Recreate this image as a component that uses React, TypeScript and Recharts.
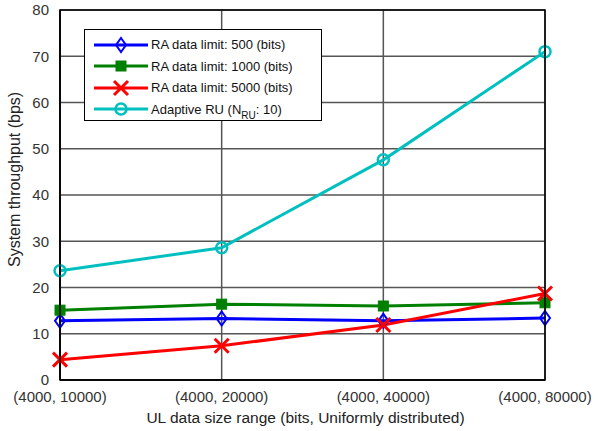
import React from 'react';
import { LineChart, Line, XAxis, YAxis, CartesianGrid } from 'recharts';

const rangeLabels = ['(4000, 10000)', '(4000, 20000)', '(4000, 40000)', '(4000, 80000)'];
const limit500 = [12.8, 13.3, 12.8, 13.4];
const limit1000 = [15.1, 16.4, 16.0, 16.7];
const limit5000 = [4.4, 7.4, 11.9, 18.7];
const adaptiveRu = [23.6, 28.6, 47.6, 71.0];
const yTicks = [0, 10, 20, 30, 40, 50, 60, 70, 80];

const data = rangeLabels.map((label, i) => ({
  idx: i,
  label,
  l500: limit500[i],
  l1000: limit1000[i],
  l5000: limit5000[i],
  ru: adaptiveRu[i],
}));

const FONT = 'Arial, "Liberation Sans", sans-serif';

const Diamond = ({ cx, cy, color }: any) => (
  <polygon
    points={`${cx},${cy - 7} ${cx + 5},${cy} ${cx},${cy + 7} ${cx - 5},${cy}`}
    fill="none"
    stroke={color}
    strokeWidth={2}
  />
);
const Square = ({ cx, cy, color }: any) => (
  <rect x={cx - 5} y={cy - 5} width={10} height={10} fill={color} stroke={color} />
);
const Cross = ({ cx, cy, color }: any) => (
  <path
    d={`M${cx - 7},${cy - 7}L${cx + 7},${cy + 7}M${cx - 7},${cy + 7}L${cx + 7},${cy - 7}`}
    stroke={color}
    strokeWidth={3}
  />
);
const Circle = ({ cx, cy, color }: any) => (
  <circle cx={cx} cy={cy} r={5.5} fill="none" stroke={color} strokeWidth={2.5} />
);

const series = [
  { key: 'l500', color: '#0000ff', Marker: Diamond, name: 'RA data limit: 500 (bits)' },
  { key: 'l1000', color: '#008000', Marker: Square, name: 'RA data limit: 1000 (bits)' },
  { key: 'l5000', color: '#ff0000', Marker: Cross, name: 'RA data limit: 5000 (bits)' },
  { key: 'ru', color: '#00bfbf', Marker: Circle, name: 'Adaptive RU' },
];

const LegendBox = () => (
  <div
    style={{
      position: 'absolute',
      left: 84,
      top: 29,
      border: '1px solid #000',
      background: '#fff',
      width: 238,
      height: 92,
      boxSizing: 'border-box',
      padding: '4px 0 0 0',
      fontFamily: FONT,
      fontSize: 13,
      color: '#111',
    }}
  >
    {series.map((s) => (
      <div key={s.key} style={{ display: 'flex', alignItems: 'center', height: 21.5 }}>
        <svg width={66} height={20} style={{ flex: 'none' }}>
          <line x1={9} y1={10} x2={63} y2={10} stroke={s.color} strokeWidth={3} />
          <s.Marker cx={36} cy={10} color={s.color} />
        </svg>
        <span style={{ whiteSpace: 'nowrap' }}>
          {s.key === 'ru' ? (
            <>
              Adaptive RU (N<sub style={{ fontSize: 10, verticalAlign: -5, lineHeight: 0 }}>RU</sub>: 10)
            </>
          ) : (
            s.name
          )}
        </span>
      </div>
    ))}
  </div>
);

export default function App() {
  return (
    <div style={{ position: 'absolute', left: 0, top: 0, width: 599, height: 431, background: '#fff' }}>
      <LineChart width={599} height={431} data={data} margin={{ top: 10, right: 54, bottom: 0, left: 0 }}>
        <CartesianGrid stroke="#555" strokeWidth={1.5} />
        <XAxis
          dataKey="idx"
          type="number"
          domain={[0, 3]}
          ticks={[0, 1, 2, 3]}
          tickFormatter={(v: number) => rangeLabels[v]}
          tickLine={false}
          axisLine={{ stroke: '#000', strokeWidth: 1.5 }}
          tick={{ fill: '#333', fontSize: 15, fontFamily: FONT }}
          tickMargin={5}
          height={51}
          label={{
            value: 'UL data size range (bits, Uniformly distributed)',
            position: 'insideBottom',
            offset: 8,
            dx: 3,
            fill: '#222',
            fontSize: 15.5,
            fontFamily: FONT,
          }}
        />
        <YAxis
          domain={[0, 80]}
          ticks={yTicks}
          width={60}
          tickLine={false}
          axisLine={{ stroke: '#000', strokeWidth: 1.5 }}
          tick={{ fill: '#333', fontSize: 15, fontFamily: FONT }}
          tickMargin={5}
          label={{
            value: 'System throughput (bps)',
            angle: -90,
            position: 'insideLeft',
            offset: 14,
            dy: 72,
            fill: '#222',
            fontSize: 16,
            fontFamily: FONT,
          }}
        />
        {series.map((s) => (
          <Line
            key={s.key}
            dataKey={s.key}
            stroke={s.color}
            strokeWidth={3}
            isAnimationActive={false}
            dot={(p: any) => <s.Marker key={`${s.key}-${p.index}`} cx={p.cx} cy={p.cy} color={s.color} />}
            activeDot={false}
          />
        ))}
      </LineChart>
      <svg width={599} height={431} style={{ position: 'absolute', left: 0, top: 0, pointerEvents: 'none' }}>
        <rect x={60} y={10} width={485} height={370} fill="none" stroke="#000" strokeWidth={1.5} />
      </svg>
      <LegendBox />
    </div>
  );
}
